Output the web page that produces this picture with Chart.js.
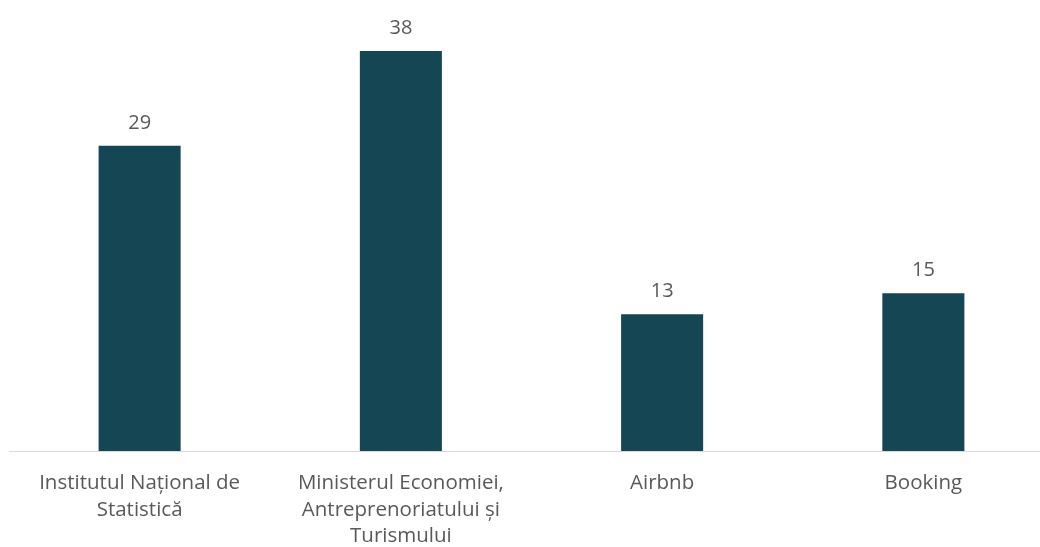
<!DOCTYPE html>
<html>
<head>
<meta charset="utf-8">
<script src="https://cdn.jsdelivr.net/npm/chart.js@4/dist/chart.umd.min.js"></script>
<style>
  html, body { margin: 0; padding: 0; background: #fff; overflow: hidden; }
  #wrap { position: relative; width: 1054px; height: 547px; }
</style>
</head>
<body>
<div id="wrap"><canvas id="chart"></canvas></div>
<script>
// ─── Data ─────────────────────────────────────────────────────────────────────
const categories = [
  ['Institutul Național de', 'Statistică'],
  ['Ministerul Economiei,', 'Antreprenoriatului și', 'Turismului'],
  'Airbnb',
  'Booking'
];
const values = [29, 38, 13, 15];

const textColor = '#595959';
const barColor = '#144653';
const fontFamily = "'Open Sans', 'Liberation Sans', sans-serif";

// ─── Value labels above the bars ──────────────────────────────────────────────
const valueLabels = {
  id: 'valueLabels',
  afterDatasetsDraw(chart) {
    const ctx = chart.ctx;
    const meta = chart.getDatasetMeta(0);
    ctx.save();
    ctx.font = '20px ' + fontFamily;
    ctx.fillStyle = textColor;
    ctx.textAlign = 'center';
    ctx.textBaseline = 'alphabetic';
    meta.data.forEach((bar, i) => {
      ctx.fillText(String(values[i]), bar.x, bar.y - 17);
    });
    ctx.restore();
  }
};

new Chart(document.getElementById('chart'), {
  type: 'bar',
  data: {
    labels: categories,
    datasets: [{
      data: values,
      backgroundColor: barColor,
      borderWidth: 0,
      categoryPercentage: 1,
      barPercentage: 0.314
    }]
  },
  options: {
    responsive: true,
    maintainAspectRatio: false,
    animation: false,
    layout: { padding: { left: 9, right: 0, top: 30, bottom: 0 } },
    plugins: { legend: { display: false }, tooltip: { enabled: false } },
    scales: {
      x: {
        grid: { display: false, drawTicks: false },
        border: { display: true, color: '#d9d9d9', width: 1 },
        ticks: {
          color: textColor,
          font: { family: fontFamily, size: 20.5, lineHeight: 1.29 },
          padding: 19,
          maxRotation: 0,
          autoSkip: false
        },
        afterFit(scale) { scale.height = 96; }
      },
      y: {
        display: false,
        min: 0,
        max: 40
      }
    }
  },
  plugins: [valueLabels]
});
</script>
</body>
</html>
